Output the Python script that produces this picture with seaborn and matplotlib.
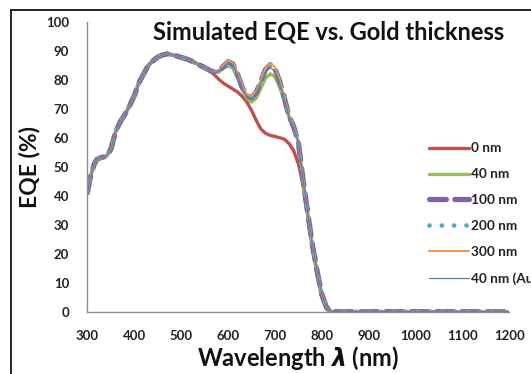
import matplotlib
matplotlib.use("Agg")
import matplotlib.pyplot as plt
import seaborn as sns
import pandas as pd
from matplotlib.lines import Line2D

sns.set_style("white")
plt.rcParams['font.family'] = ['Lato', 'DejaVu Sans']
plt.rcParams['mathtext.fontset'] = 'custom'
plt.rcParams['mathtext.bfit'] = 'DejaVu Sans:italic:bold'
plt.rcParams['mathtext.bf'] = 'DejaVu Sans:italic:bold'

wavelength = [300, 305, 310, 315, 320, 330, 340, 350, 360, 370, 380, 390, 400,
              410, 420, 430, 440, 450, 460, 470, 480, 490, 500, 510, 520, 530,
              540, 550, 560, 570, 580, 590, 600, 610, 620, 630, 640, 650, 660,
              670, 680, 690, 700, 710, 720, 730, 740, 750, 760, 770, 780, 790,
              800, 810, 820, 900, 1000, 1100, 1200]

common = [41, 45.5, 48.5, 51, 52.5, 53.2, 53.5, 56, 62, 65.5, 68, 71, 74.5,
          79, 82, 85, 86.5, 87.8, 88.5, 88.9, 88.6, 88.2, 87.7, 87.2, 86.6, 85.8,
          85, 84.2, 83.3]

eqe_0nm = common + [81.8, 80.2, 78.8, 77.8, 76.8, 75.8, 74.3, 72.3, 69.5, 66,
                    63, 61.5, 60.8, 60.4, 60, 59.5, 58, 55.5, 51, 44, 33, 22,
                    13, 5, 1, 0, 0, 0, 0, 0]
eqe_40nm = common + [82.5, 82.6, 83.8, 84.8, 84, 80.8, 76.8, 73.6, 72.3, 73.6,
                     77, 80.5, 82, 81, 77.5, 72.5, 67, 63.5, 58.5, 45.5, 34, 23,
                     14, 6, 1.5, 0, 0, 0, 0, 0]
eqe_100nm = common + [82.5, 83, 84.6, 86.2, 85.5, 82, 77.5, 74.5, 73.8, 75.5,
                      79.5, 83.5, 85.2, 83.8, 79.5, 73.8, 67.5, 63.8, 58.5, 45.5,
                      34, 23, 14, 6, 1.5, 0, 0, 0, 0, 0]
eqe_200nm = common + [82.5, 83, 84.6, 86.2, 85.5, 82, 77.5, 74.5, 73.8, 75.5,
                      79.5, 83.5, 85.2, 83.8, 79.5, 73.8, 67.5, 63.8, 58.5, 45.5,
                      34, 23, 14, 6, 1.5, 0, 0, 0, 0, 0]
eqe_300nm = common + [82.6, 83.2, 84.9, 86.6, 85.9, 82.5, 78, 75, 74.2, 76,
                      80, 84, 85.6, 84.3, 80, 74.2, 68, 64, 58.8, 45.5, 34, 23,
                      14, 6, 1.5, 0, 0, 0, 0, 0]
eqe_40nm_au = common + [82.5, 82.9, 84.4, 86, 85.3, 81.8, 77.2, 74.2, 73.5,
                        75.2, 79, 82.8, 84.2, 83, 79, 73.5, 67.3, 63.7, 58.5,
                        45.5, 34, 23, 14, 6, 1.5, 0, 0, 0, 0, 0]

labels = ["0 nm", "40 nm", "100 nm", "200 nm", "300 nm", "40 nm (Au)"]
series = [eqe_0nm, eqe_40nm, eqe_100nm, eqe_200nm, eqe_300nm, eqe_40nm_au]
colors = ["#C0504D", "#9BBB59", "#8064A2", "#4BACC6", "#F79646", "#4F81BD"]
styles = [
    dict(linewidth=2.4, linestyle="-"),
    dict(linewidth=2.4, linestyle="-"),
    dict(linewidth=3.8, linestyle=(0, (3.2, 1.6)), dash_capstyle="round"),
    dict(linewidth=3.4, linestyle=(0, (0.01, 2.6)), dash_capstyle="round"),
    dict(linewidth=1.5, linestyle="-"),
    dict(linewidth=0.9, linestyle="-"),
]

fig = plt.figure(figsize=(5.31, 3.74), dpi=100)
ax = fig.add_axes([87.4 / 531, 1 - 311.7 / 374, (509.3 - 87.4) / 531, 290 / 374])

for lab, vals, col, st in zip(labels, series, colors, styles):
    df = pd.DataFrame({"Wavelength": wavelength, "EQE": vals})
    sns.lineplot(data=df, x="Wavelength", y="EQE", ax=ax, color=col,
                 label=lab, legend=False, **st)

ax.set_xlim(300, 1200)
ax.set_ylim(0, 100)
ax.set_xticks(range(300, 1201, 100))
ax.set_yticks(range(0, 101, 10))
for s in ["top", "right"]:
    ax.spines[s].set_visible(False)
for s in ["left", "bottom"]:
    ax.spines[s].set_color("#8c8c8c")
    ax.spines[s].set_linewidth(1.0)
ax.tick_params(axis="both", direction="out", length=5, width=1.0,
               color="#8c8c8c", labelsize=9.5, labelcolor="#222222", pad=8)
for t in ax.get_xticklabels() + ax.get_yticklabels():
    t.set_fontweight("bold")

ax.set_xlabel("")
ax.set_ylabel("")
fig.text(298 / 531, 1 - 358 / 374, "Wavelength $\\mathbf{\\lambda}$ (nm)",
         ha="center", va="center", fontsize=17, fontweight="bold",
         color="#111111")
fig.text(30 / 531, 1 - 167 / 374, "EQE (%)", rotation=90, ha="center",
         va="center", fontsize=16.5, fontweight="bold", color="#111111")
fig.text(329 / 531, 1 - 32 / 374, "Simulated EQE vs. Gold thickness",
         ha="center", va="center", fontsize=17, fontweight="bold",
         color="#111111")

handles = []
for lab, col, st in zip(labels, colors, styles):
    handles.append(Line2D([0], [0], color=col, **st))
leg = ax.legend(handles, labels, loc="upper left",
                bbox_to_anchor=(424 / 531, 1 - 137 / 374),
                bbox_transform=fig.transFigure, frameon=False,
                handlelength=2.9, handletextpad=0.15, labelspacing=1.02,
                fontsize=9.8, borderaxespad=0)
for t in leg.get_texts():
    t.set_fontweight("bold")
    t.set_color("#222222")

fig.add_artist(Line2D([11 / 531, 11 / 531], [0, 1 - 10 / 374],
                      transform=fig.transFigure, color="black", linewidth=1.2))
fig.add_artist(Line2D([11 / 531, 1], [1 - 10 / 374, 1 - 10 / 374],
                      transform=fig.transFigure, color="black", linewidth=1.2))

fig.savefig("out.png", dpi=100)
